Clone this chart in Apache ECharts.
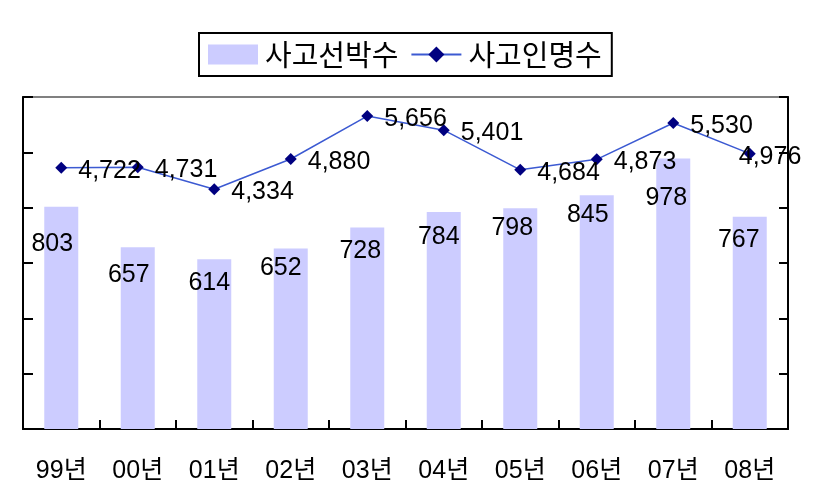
<!DOCTYPE html>
<html>
<head>
<meta charset="utf-8">
<script src="https://cdn.jsdelivr.net/npm/echarts@6/dist/echarts.min.js"></script>
<style>
html,body{margin:0;padding:0;background:#fff;}
#chart{width:827px;height:494px;}
</style>
</head>
<body>
<div id="chart"></div>
<script>
// ---- data ----
const categories = ['99년','00년','01년','02년','03년','04년','05년','06년','07년','08년'];
const shipAccidents = [803, 657, 614, 652, 728, 784, 798, 845, 978, 767];   // 사고선박수
const casualties = [4722, 4731, 4334, 4880, 5656, 5401, 4684, 4873, 5530, 4976]; // 사고인명수
const seriesNames = ['사고선박수', '사고인명수'];

// ---- label layout nudges (not data) ----
const barLabelDrop = [37, 28, 24, 19, 24, 25, 20, 20, 40, 23];
const barLabelShift = [-9, -9, -5, -10, -7, -5, -8, -9, -7, -11];

const numFont = '"Liberation Sans", Arial, "Noto Sans CJK KR", sans-serif';
const fmt = v => v.toLocaleString('en-US');

const barData = shipAccidents.map((v, i) => ({
  value: v,
  label: { offset: [barLabelShift[i], barLabelDrop[i]] }
}));
const lineData = casualties.map((v, i) => ({
  value: v,
  label: { offset: i === casualties.length - 1 ? [-28, 3] : [0, 3] }
}));

const chart = echarts.init(document.getElementById('chart'), null, { renderer: 'canvas' });
chart.setOption({
  animation: false,
  backgroundColor: '#fff',
  legend: {
    left: 199, top: 33,
    padding: [7, 10, 7, 9],
    itemWidth: 50, itemHeight: 20, itemGap: 12,
    borderColor: '#000', borderWidth: 2,
    textStyle: { fontFamily: '"Noto Sans CJK KR", sans-serif', fontSize: 29, color: '#000', padding: [0, 0, 0, 2] },
    data: [
      { name: seriesNames[0], icon: 'rect' },
      { name: seriesNames[1] }
    ]
  },
  grid: {
    left: 23, right: 39, top: 97, bottom: 65,
    show: true, borderColor: '#808080', borderWidth: 2, backgroundColor: 'transparent'
  },
  xAxis: {
    type: 'category',
    data: categories,
    boundaryGap: true,
    axisLine: { lineStyle: { color: '#000', width: 2 } },
    axisTick: { show: true, inside: true, length: 9, alignWithLabel: false, lineStyle: { color: '#000', width: 2 } },
    axisLabel: { fontFamily: numFont, fontSize: 25, color: '#000', margin: 30 }
  },
  yAxis: [
    {
      type: 'value', min: 0, max: 1200, interval: 200, position: 'left',
      axisLine: { show: true, lineStyle: { color: '#000', width: 2 } },
      axisTick: { show: true, inside: true, length: 10, lineStyle: { color: '#000', width: 2 } },
      axisLabel: { show: false },
      splitLine: { show: false }
    },
    {
      type: 'value', min: 0, max: 6000, interval: 1000, position: 'right',
      axisLine: { show: true, lineStyle: { color: '#000', width: 2 } },
      axisTick: { show: true, inside: true, length: 9, lineStyle: { color: '#000', width: 2 } },
      axisLabel: { show: false },
      splitLine: { show: false }
    }
  ],
  series: [
    {
      name: seriesNames[0],
      type: 'bar',
      yAxisIndex: 0,
      barWidth: 34,
      itemStyle: { color: '#CCCCFF' },
      data: barData,
      label: {
        show: true,
        position: ['50%', 0],
        align: 'center', verticalAlign: 'middle',
        fontFamily: numFont, fontSize: 25, color: '#000',
        formatter: p => fmt(p.value)
      },
      z: 2
    },
    {
      name: seriesNames[1],
      type: 'line',
      yAxisIndex: 1,
      data: lineData,
      symbol: 'diamond',
      symbolSize: 12,
      lineStyle: { color: '#3C5AD2', width: 1.5 },
      itemStyle: { color: '#000080' },
      label: {
        show: true,
        position: 'right',
        distance: 11,
        fontFamily: numFont, fontSize: 25, color: '#000',
        formatter: p => fmt(p.value)
      },
      z: 3
    }
  ]
});
</script>
</body>
</html>
